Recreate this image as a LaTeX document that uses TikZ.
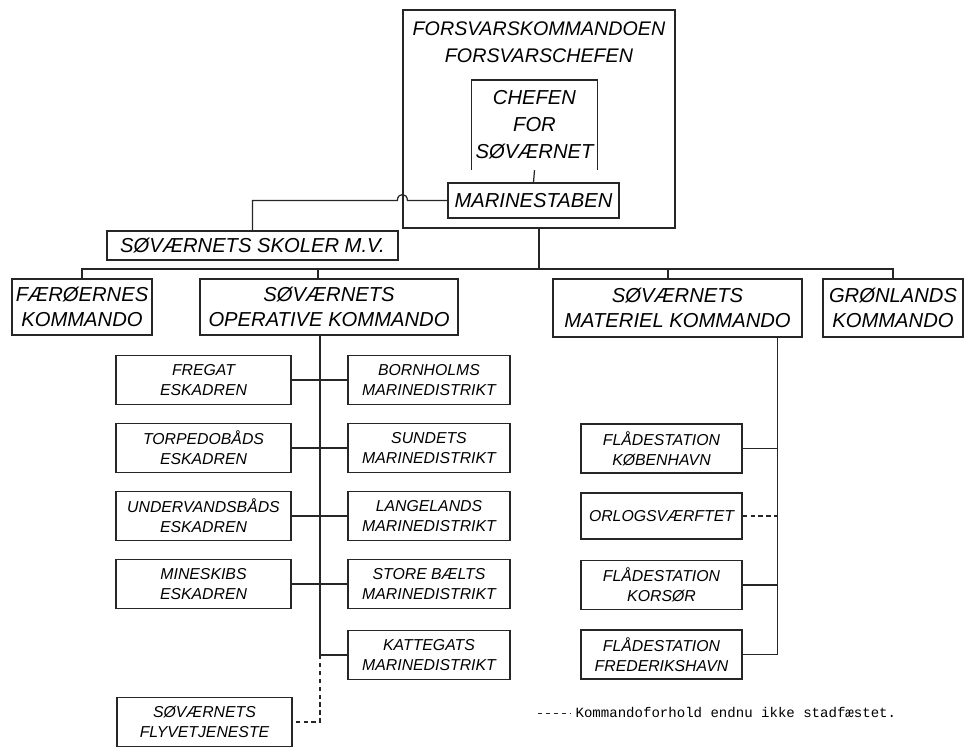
\documentclass[tikz,border=0pt]{standalone}
\usepackage{fontspec}
\setmainfont{Liberation Sans}
\setmonofont{Liberation Mono}
\usepackage{tikz}
\usetikzlibrary{positioning,calc}

\begin{document}
\begin{tikzpicture}[
    x=0.02cm, y=-0.02cm,
    line width=0.7pt,
    big/.style={
        draw=black!85,
        inner sep=0pt,
        align=center,
        font=\fontsize{11.5}{14}\selectfont\itshape
    },
    small/.style={
        draw=black!85,
        inner sep=0pt,
        minimum height=0.98cm,
        align=center,
        font=\fontsize{9}{11.5}\selectfont\itshape
    },
    leftcol/.style={small, minimum width=3.5cm},
    rightcol/.style={small, minimum width=3.24cm},
    matcol/.style={small, minimum width=3.22cm},
    link/.style={draw=black!85},
    notyet/.style={link, dash pattern=on 2.5pt off 2pt},
    legendtxt/.style={font=\fontsize{8}{10}\selectfont\ttfamily, inner sep=0pt}
]
\useasboundingbox (0,0) rectangle (965,749);

% top level
\node[big, minimum width=5.44cm, minimum height=4.36cm] (fko) at (539,119) {};
\node[big, draw=none, font=\fontsize{11.2}{15.3}\selectfont\itshape, anchor=north] (fkotxt)
    at ([yshift=-0.24cm]fko.north) {FORSVARSKOMMANDOEN\\FORSVARSCHEFEN};
\node[big, draw=none, minimum width=2.5cm, minimum height=1.78cm,
      font=\fontsize{11.5}{15.3}\selectfont\itshape] (chef) at (534.5,125)
    {CHEFEN\\FOR\\SØVÆRNET};
\draw[link] (chef.south west) -- (chef.north west) -- (chef.north east) -- (chef.south east);
\node[big, minimum width=3.42cm, minimum height=0.7cm] (marine) at (533.5,200.5) {MARINESTABEN};
\draw[link] (chef.south) -- (marine.north);

\node[big, minimum width=5.82cm, minimum height=0.58cm] (skoler) at (252.5,245.5) {SØVÆRNETS SKOLER M.V.};
\coordinate (hopR) at ($(fko.west |- marine.west)+(5,0)$);
\coordinate (hopL) at ($(fko.west |- marine.west)+(-5,0)$);
\draw[link] (marine.west) -- (hopR) .. controls +(0,-8) and +(0,-8) .. (hopL) -| (skoler.north);

% second level
\node[big, minimum width=2.8cm, minimum height=1.12cm] (faer) at (82,307) {FÆRØERNES\\KOMMANDO};
\node[big, minimum width=5.16cm, minimum height=1.12cm] (opr) at (329,307) {SØVÆRNETS\\OPERATIVE KOMMANDO};
\node[big, minimum width=4.98cm, minimum height=1.16cm] (mat) at (677.5,308) {SØVÆRNETS\\MATERIEL KOMMANDO};
\node[big, minimum width=2.8cm, minimum height=1.16cm] (gron) at (893,308) {GRØNLANDS\\KOMMANDO};

\coordinate (bus) at (539,269);
\coordinate (oprtop) at ([xshift=-0.22cm]opr.north);
\coordinate (mattop) at ([xshift=-0.19cm]mat.north);
\draw[link] (fko.south) -- (bus);
\draw[link] (faer.north) -- (faer.north |- bus) -- (gron.north |- bus) -- (gron.north);
\draw[link] (oprtop) -- (oprtop |- bus);
\draw[link] (mattop) -- (mattop |- bus);

% operative kommando
\node[leftcol] (fregat) at (203.5,380) {FREGAT\\ESKADREN};
\node[leftcol] (torpedo) at (203.5,448) {TORPEDOBÅDS\\ESKADREN};
\node[leftcol] (ubaad) at (203.5,516) {UNDERVANDSBÅDS\\ESKADREN};
\node[leftcol] (mine) at (203.5,584) {MINESKIBS\\ESKADREN};
\node[leftcol] (flyve) at (204.5,722) {SØVÆRNETS\\FLYVETJENESTE};

\node[rightcol] (bornholm) at (429,380) {BORNHOLMS\\MARINEDISTRIKT};
\node[rightcol] (sundet) at (429,448) {SUNDETS\\MARINEDISTRIKT};
\node[rightcol] (langeland) at (429,516) {LANGELANDS\\MARINEDISTRIKT};
\node[rightcol] (storebaelt) at (429,584) {STORE BÆLTS\\MARINEDISTRIKT};
\node[rightcol] (kattegat) at (429,655) {KATTEGATS\\MARINEDISTRIKT};

\coordinate (optrunk) at ([xshift=-0.18cm]opr.south);
\draw[link] (optrunk) |- (kattegat.west);
\draw[link] (fregat.east) -- (bornholm.west);
\draw[link] (torpedo.east) -- (sundet.west);
\draw[link] (ubaad.east) -- (langeland.west);
\draw[link] (mine.east) -- (storebaelt.west);
\draw[notyet] (optrunk |- kattegat.west) |- (flyve.east);

% materiel kommando
\node[matcol] (kbh) at (661.5,448.5) {FLÅDESTATION\\KØBENHAVN};
\node[matcol, minimum height=0.92cm] (orlog) at (661.5,516) {ORLOGSVÆRFTET};
\node[matcol] (korsor) at (661.5,585) {FLÅDESTATION\\KORSØR};
\node[matcol] (frhavn) at (661.5,654.5) {FLÅDESTATION\\FREDERIKSHAVN};

\coordinate (mattrunk) at ([xshift=-0.5cm]mat.south east);
\draw[link] (mattrunk) |- (frhavn.east);
\draw[link] (kbh.east) -- (kbh.east -| mattrunk);
\draw[notyet] (orlog.east) -- (orlog.east -| mattrunk);
\draw[link] (korsor.east) -- (korsor.east -| mattrunk);

% legend
\node[legendtxt, anchor=west] (legend) at (575,713) {Kommandoforhold endnu ikke stadfæstet.};
\coordinate (legendstart) at ([xshift=-0.74cm]legend.west);
\draw[notyet, line width=0.5pt] (legendstart) -- ([xshift=-0.08cm]legend.west);

\end{tikzpicture}
\end{document}
